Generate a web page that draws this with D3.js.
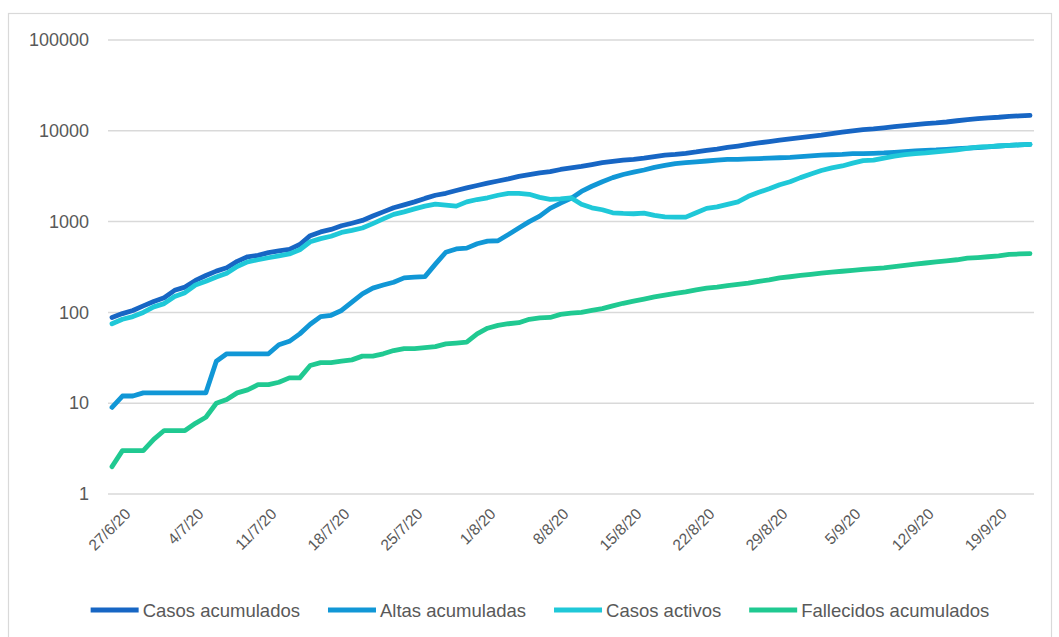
<!DOCTYPE html>
<html>
<head>
<meta charset="utf-8">
<script src="https://cdn.jsdelivr.net/npm/d3@7"></script>
<style>
  body { margin: 0; background: #fff; }
  text { font-family: "Liberation Sans", Arial, sans-serif; fill: #595959; }
</style>
</head>
<body>
<div id="chart"></div>
<script>
// Daily values, 27/6/20 .. 23/9/20
var casosAcumulados = [88, 97, 105, 118, 132, 145, 175, 190, 225, 255,
  285, 310, 365, 410, 425, 455, 475, 495, 560, 700,
  770, 820, 900, 960, 1030, 1150, 1280, 1420, 1530, 1650,
  1800, 1950, 2050, 2200, 2350, 2500, 2650, 2800, 2950, 3150,
  3300, 3450, 3550, 3750, 3900, 4050, 4250, 4450, 4600, 4750,
  4850, 5000, 5200, 5400, 5500, 5650, 5850, 6100, 6300, 6550,
  6800, 7100, 7350, 7600, 7900, 8150, 8400, 8700, 8950, 9300,
  9650, 10000, 10300, 10500, 10800, 11100, 11400, 11700, 12000, 12200,
  12500, 12900, 13300, 13600, 13900, 14100, 14400, 14600, 14800];

var altasAcumuladas = [9, 12, 12, 13, 13, 13, 13, 13, 13, 13,
  29, 35, 35, 35, 35, 35, 44, 48, 58, 74,
  90, 93, 105, 130, 160, 185, 200, 215, 240, 245,
  248, 340, 460, 500, 510, 570, 610, 615, 720, 850,
  1000, 1150, 1400, 1600, 1800, 2150, 2450, 2750, 3050, 3300,
  3500, 3700, 3950, 4150, 4350, 4450, 4550, 4650, 4750, 4850,
  4850, 4900, 4950, 5000, 5050, 5100, 5200, 5300, 5400, 5450,
  5500, 5600, 5600, 5650, 5700, 5800, 5900, 6000, 6100, 6150,
  6250, 6350, 6450, 6550, 6650, 6800, 6900, 7000, 7100];

var casosActivos = [75, 84, 90, 100, 115, 125, 150, 165, 200, 220,
  245, 270, 320, 360, 380, 400, 420, 440, 490, 600,
  650, 690, 760, 800, 850, 950, 1070, 1200, 1280, 1380,
  1480, 1560, 1520, 1480, 1650, 1750, 1830, 1950, 2050, 2050,
  2000, 1850, 1760, 1780, 1830, 1550, 1420, 1350, 1250, 1230,
  1220, 1240, 1170, 1130, 1120, 1120, 1250, 1400, 1450, 1550,
  1650, 1900, 2100, 2300, 2550, 2750, 3050, 3350, 3650, 3900,
  4100, 4400, 4700, 4750, 5000, 5250, 5450, 5600, 5700, 5850,
  6000, 6150, 6400, 6600, 6700, 6800, 6900, 7000, 7100];

var fallecidosAcumulados = [2, 3, 3, 3, 4, 5, 5, 5, 6, 7,
  10, 11, 13, 14, 16, 16, 17, 19, 19, 26,
  28, 28, 29, 30, 33, 33, 35, 38, 40, 40,
  41, 42, 45, 46, 47, 58, 67, 72, 75, 77,
  84, 87, 88, 95, 98, 100, 105, 110, 118, 126,
  133, 140, 148, 155, 162, 168, 177, 185, 190, 197,
  203, 210, 220, 228, 240, 247, 255, 263, 270, 277,
  284, 290, 297, 303, 310, 320, 330, 340, 350, 360,
  370, 380, 395, 402, 410, 420, 435, 440, 445];

var tickLabels = ["27/6/20", "4/7/20", "11/7/20", "18/7/20", "25/7/20", "1/8/20", "8/8/20",
  "15/8/20", "22/8/20", "29/8/20", "5/9/20", "12/9/20", "19/9/20"];
var yTicks = [1, 10, 100, 1000, 10000, 100000];

var seriesNames = ["Casos acumulados", "Altas acumuladas", "Casos activos", "Fallecidos acumulados"];
var seriesColors = ["#1766c4", "#1197d6", "#1fc8d8", "#20c991"];
var seriesData = [casosAcumulados, altasAcumuladas, casosActivos, fallecidosAcumulados];

var svgWidth = 1059;
var svgHeight = 637;

var parseDate = d3.timeParse("%d/%m/%y");
var startDate = parseDate("27/6/20");
var dates = casosAcumulados.map((d, i) => d3.timeDay.offset(startDate, i));

var svg = d3.select("#chart")
  .append("svg")
  .attr("width", svgWidth)
  .attr("height", svgHeight);

// chart border
svg.append("rect")
  .attr("x", 8.5).attr("y", 13.5)
  .attr("width", 1043).attr("height", 640)
  .attr("fill", "none")
  .attr("stroke", "#d9d9d9")
  .attr("stroke-width", 1.2);

var xScale = d3.scaleTime()
  .domain([startDate, dates[dates.length - 1]])
  .range([112, 1030]);

var yScale = d3.scaleLog()
  .domain([1, 100000])
  .range([494, 40]);

// gridlines
svg.append("g")
  .selectAll("line")
  .data(yTicks)
  .enter()
  .append("line")
  .attr("x1", 108)
  .attr("x2", 1034)
  .attr("y1", d => yScale(d))
  .attr("y2", d => yScale(d))
  .attr("stroke", "#d9d9d9")
  .attr("stroke-width", 1.5);

// y axis labels
var leftAxis = d3.axisLeft(yScale)
  .tickValues(yTicks)
  .tickFormat(d3.format("d"))
  .tickSize(0)
  .tickPadding(0);

var yAxisG = svg.append("g")
  .attr("transform", "translate(89, 0)")
  .call(leftAxis);
yAxisG.select(".domain").remove();
yAxisG.selectAll("text")
  .attr("font-size", "18px")
  .attr("font-family", "Liberation Sans, Arial, sans-serif")
  .attr("fill", "#595959");

// x axis labels
var bottomAxis = d3.axisBottom(xScale)
  .tickValues(tickLabels.map(parseDate))
  .tickFormat((d, i) => tickLabels[i])
  .tickSize(0);

var xAxisG = svg.append("g")
  .attr("transform", "translate(0, 494)")
  .call(bottomAxis);
xAxisG.select(".domain").remove();
xAxisG.selectAll("text")
  .attr("font-size", "15.5px")
  .attr("font-family", "Liberation Sans, Arial, sans-serif")
  .attr("fill", "#595959")
  .attr("text-anchor", "end")
  .attr("dy", null)
  .attr("y", 0)
  .attr("transform", "translate(19, 21) rotate(-45)");

// lines
var line = d3.line()
  .x((d, i) => xScale(dates[i]))
  .y(d => yScale(d));

svg.append("g")
  .selectAll("path")
  .data(seriesData)
  .enter()
  .append("path")
  .attr("d", d => line(d))
  .attr("fill", "none")
  .attr("stroke", (d, i) => seriesColors[i])
  .attr("stroke-width", 4.8)
  .attr("stroke-linejoin", "round")
  .attr("stroke-linecap", "round");

// legend
var legend = svg.append("g");
var items = legend.selectAll("g")
  .data(seriesNames)
  .enter()
  .append("g");

items.append("line")
  .attr("x1", 0).attr("x2", 48)
  .attr("y1", 0).attr("y2", 0)
  .attr("stroke", (d, i) => seriesColors[i])
  .attr("stroke-width", 4.8);

items.append("text")
  .attr("x", 52)
  .attr("y", 6.5)
  .attr("font-size", "18.5px")
  .text(d => d);

var gap = 28;
var xPos = 0;
items.each(function() {
  var w = 52 + this.querySelector("text").getComputedTextLength();
  d3.select(this).attr("transform", `translate(${xPos}, 0)`);
  xPos += w + gap;
});
var legendWidth = xPos - gap;
legend.attr("transform", `translate(${540 - legendWidth / 2}, 610)`);
</script>
</body>
</html>
